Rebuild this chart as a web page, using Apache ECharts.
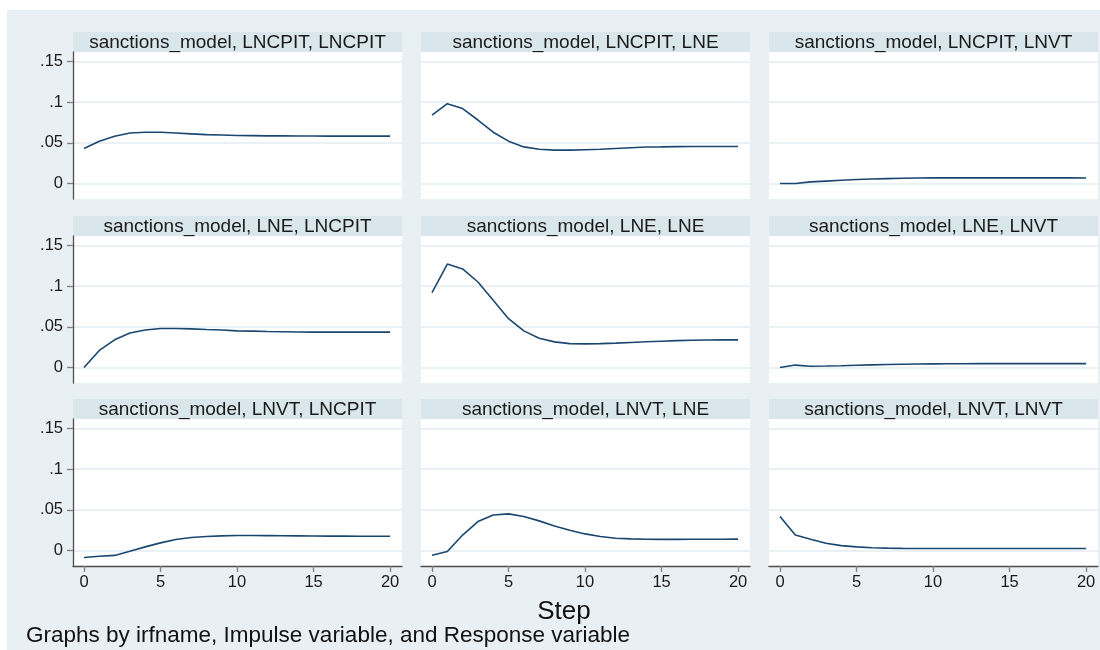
<!DOCTYPE html>
<html><head><meta charset="utf-8">
<script src="https://cdn.jsdelivr.net/npm/echarts@6/dist/echarts.min.js"></script>
<style>
html,body{margin:0;padding:0;background:#ffffff;}
#bg{position:absolute;left:7px;top:10px;width:1093px;height:640px;background:#e8f0f3;}
#chart{position:absolute;left:0;top:0;width:1100px;height:650px;}
</style></head><body><div id="bg"></div><div id="chart"></div>
<script>
// ---- data ----
const irfName = 'sanctions_model';
const impulses = ['LNCPIT', 'LNE', 'LNVT'];
const responses = ['LNCPIT', 'LNE', 'LNVT'];
const steps = [0, 1, 2, 3, 4, 5, 6, 7, 8, 9, 10, 11, 12, 13, 14, 15, 16, 17, 18, 19, 20];

const irf_LNCPIT_LNCPIT = [0.043, 0.052, 0.058, 0.062, 0.063, 0.063, 0.062, 0.061, 0.060, 0.0595, 0.059, 0.0588, 0.0585, 0.0585, 0.0583, 0.0583, 0.0582, 0.0582, 0.0582, 0.0582, 0.0582];
const irf_LNCPIT_LNE = [0.084, 0.098, 0.092, 0.078, 0.063, 0.052, 0.045, 0.042, 0.041, 0.041, 0.0415, 0.042, 0.043, 0.044, 0.0448, 0.045, 0.0453, 0.0455, 0.0455, 0.0455, 0.0455];
const irf_LNCPIT_LNVT = [0.000, 0.000, 0.002, 0.003, 0.004, 0.005, 0.0055, 0.006, 0.0065, 0.0068, 0.007, 0.007, 0.007, 0.007, 0.007, 0.007, 0.007, 0.007, 0.007, 0.007, 0.0068];
const irf_LNE_LNCPIT = [0.000, 0.021, 0.034, 0.0425, 0.046, 0.048, 0.048, 0.0475, 0.0467, 0.046, 0.045, 0.0447, 0.0443, 0.044, 0.0437, 0.0435, 0.0435, 0.0435, 0.0435, 0.0435, 0.0435];
const irf_LNE_LNE = [0.092, 0.127, 0.121, 0.105, 0.0825, 0.060, 0.045, 0.036, 0.0315, 0.0294, 0.029, 0.0293, 0.030, 0.0308, 0.0316, 0.0323, 0.033, 0.0335, 0.0338, 0.034, 0.034];
const irf_LNE_LNVT = [0.000, 0.003, 0.0015, 0.0018, 0.0022, 0.0028, 0.0033, 0.0037, 0.004, 0.0043, 0.0045, 0.0046, 0.0047, 0.0048, 0.0048, 0.0048, 0.0048, 0.0048, 0.0048, 0.0048, 0.0048];
const irf_LNVT_LNCPIT = [-0.0086, -0.007, -0.006, -0.001, 0.0045, 0.0094, 0.0135, 0.016, 0.0172, 0.018, 0.0184, 0.0184, 0.0183, 0.0181, 0.018, 0.0178, 0.0177, 0.0177, 0.0176, 0.0176, 0.0176];
const irf_LNVT_LNE = [-0.0057, -0.0012, 0.019, 0.0356, 0.0437, 0.045, 0.0417, 0.0364, 0.030, 0.025, 0.0204, 0.0172, 0.0151, 0.0143, 0.0139, 0.0137, 0.0137, 0.0138, 0.0139, 0.0139, 0.014];
const irf_LNVT_LNVT = [0.0417, 0.019, 0.0139, 0.009, 0.006, 0.0045, 0.0035, 0.003, 0.0027, 0.0025, 0.0025, 0.0025, 0.0025, 0.0025, 0.0025, 0.0025, 0.0025, 0.0025, 0.0025, 0.0025, 0.0025];

const yTickValues = [0, 0.05, 0.1, 0.15];
const yTickLabels = ['0', '.05', '.1', '.15'];
const xTickValues = [0, 5, 10, 15, 20];
const xTitle = 'Step';
const noteText = 'Graphs by irfname, Impulse variable, and Response variable';

const panelValues = [
  [irf_LNCPIT_LNCPIT, irf_LNCPIT_LNE, irf_LNCPIT_LNVT],
  [irf_LNE_LNCPIT, irf_LNE_LNE, irf_LNE_LNVT],
  [irf_LNVT_LNCPIT, irf_LNVT_LNE, irf_LNVT_LNVT]
];

// ---- layout ----
const colLeft = [73, 421, 769];
const rowTop = [52, 236, 419];
const gridW = 329, gridH = 147, stripH = 20;
const FONT = '"Liberation Sans", Arial, sans-serif';
const lineColor = '#1a476f';

const grids = [], xAxes = [], yAxes = [], series = [], graphics = [], texts = [];
let idx = 0;
for (let r = 0; r < 3; r++) {
  for (let c = 0; c < 3; c++) {
    const left = colLeft[c], top = rowTop[r];
    grids.push({left: left, top: top, width: gridW, height: gridH, show: true, backgroundColor: '#ffffff', borderWidth: 0});
    const bottomRow = r === 2, leftCol = c === 0;
    xAxes.push({
      type: 'value', gridIndex: idx, min: -0.72, max: 20.78,
      show: bottomRow,
      axisLine: {show: bottomRow, onZero: false, lineStyle: {color: '#4d4d4d', width: 1.3}},
      axisTick: {show: bottomRow, customValues: xTickValues, length: 6, lineStyle: {color: '#808080', width: 1.3}},
      axisLabel: {show: bottomRow, customValues: xTickValues, margin: 8, fontSize: 16.5, color: '#1a1a1a', fontFamily: FONT},
      splitLine: {show: false}
    });
    yAxes.push({
      type: 'value', gridIndex: idx, min: -0.019, max: 0.1615,
      axisLine: {show: leftCol, onZero: false, lineStyle: {color: '#4d4d4d', width: 1.3}},
      axisTick: {show: leftCol, customValues: yTickValues, length: 6, lineStyle: {color: '#808080', width: 1.3}},
      axisLabel: {show: leftCol, customValues: yTickValues, margin: 10, fontSize: 16.5, color: '#1a1a1a', fontFamily: FONT,
        formatter: function (v) { const k = yTickValues.findIndex(t => Math.abs(t - v) < 1e-9); return k >= 0 ? yTickLabels[k] : ''; }},
      splitLine: {show: true, lineStyle: {color: '#eaf1f4', width: 2}}
    });
    series.push({
      type: 'line', xAxisIndex: idx, yAxisIndex: idx,
      data: steps.map((s, i) => [s, panelValues[r][c][i]]),
      showSymbol: false, symbol: 'none', smooth: false,
      lineStyle: {color: lineColor, width: 1.6},
      animation: false, silent: true
    });
    graphics.push({type: 'rect', left: left, top: top - stripH, shape: {width: gridW, height: stripH}, style: {fill: '#d9e6eb'}, silent: true});
    texts.push({type: 'text', x: left + gridW / 2, y: top - stripH / 2 + 0.5,
      style: {text: irfName + ', ' + impulses[r] + ', ' + responses[c], font: '19px ' + FONT, fill: '#1a1a1a', textAlign: 'center', textVerticalAlign: 'middle'}, silent: true});
    idx++;
  }
}
texts.push({type: 'text', x: 564, y: 612, style: {text: xTitle, font: '26px ' + FONT, fill: '#111111', textAlign: 'center', textVerticalAlign: 'middle'}, silent: true});
texts.push({type: 'text', x: 26, y: 636, style: {text: noteText, font: '22.5px ' + FONT, fill: '#111111', textAlign: 'left', textVerticalAlign: 'middle'}, silent: true});

const chart = echarts.init(document.getElementById('chart'), null, {renderer: 'canvas'});
chart.setOption({
  animation: false,
  backgroundColor: 'transparent',
  grid: grids, xAxis: xAxes, yAxis: yAxes, series: series,
  graphic: graphics.concat(texts)
});
</script></body></html>
